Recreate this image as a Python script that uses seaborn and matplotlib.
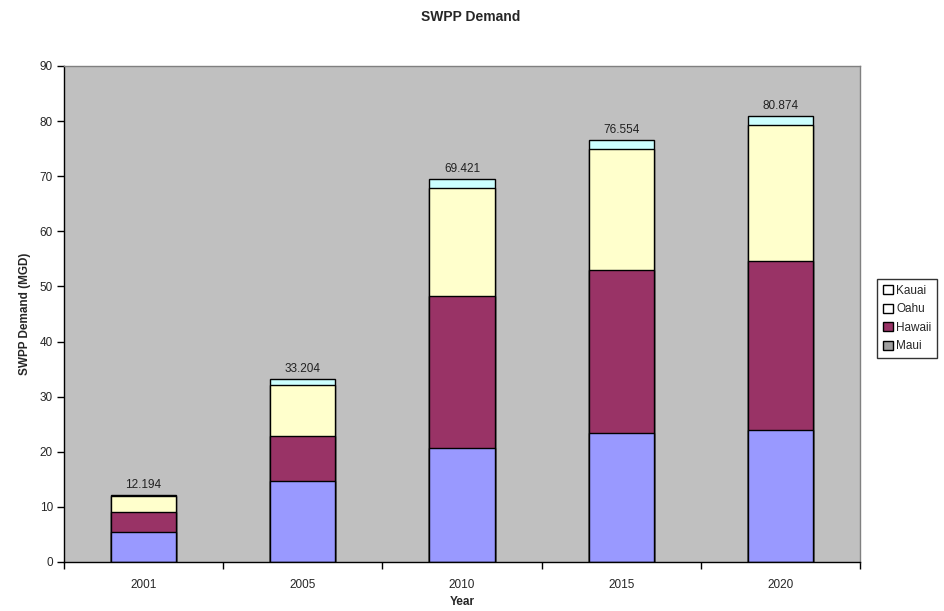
import pandas as pd
import matplotlib.pyplot as plt
import matplotlib.patches as mpatches
import numpy as np
import seaborn as sns

# values (MGD)
years = ["2001", "2005", "2010", "2015", "2020"]
maui = [5.5, 14.7, 20.7, 23.4, 24.0]
hawaii = [3.6, 8.2, 27.6, 29.5, 30.6]
oahu = [2.9, 9.2, 19.5, 22.0, 24.7]
kauai = [0.194, 1.104, 1.621, 1.654, 1.574]

islands = ["Maui", "Hawaii", "Oahu", "Kauai"]
colors = {"Maui": "#9999FF", "Hawaii": "#993366", "Oahu": "#FFFFCC", "Kauai": "#CCFFFF"}

df = pd.DataFrame({"Year": years, "Maui": maui, "Hawaii": hawaii,
                   "Oahu": oahu, "Kauai": kauai})
cum = df[islands].cumsum(axis=1)
totals = cum["Kauai"]

sns.set_style("white")
plt.rcParams["font.family"] = ["Liberation Sans", "DejaVu Sans"]

fig = plt.figure(figsize=(9.45, 6.11), dpi=100)
ax = fig.add_axes([0.0677, 0.0802, 0.8423, 0.8118])
ax.set_facecolor("#C0C0C0")

# draw from the top of the stack down, each bar covering the one behind it
for isl in reversed(islands):
    sns.barplot(x=df["Year"], y=cum[isl], color=colors[isl], width=0.41,
                edgecolor="black", linewidth=1, saturation=1, ax=ax, zorder=2)

for i, t in enumerate(totals):
    ax.annotate(f"{t:.3f}", (i, t), xytext=(0, 3), textcoords="offset points",
                ha="center", va="bottom", fontsize=8.5, color="#222222")

ax.set_xlim(-0.5, 4.5)
ax.set_ylim(0, 90)
ax.set_yticks(np.arange(0, 91, 10))
ax.set_xticks(range(len(years)))
ax.set_xticks(np.arange(-0.5, 5, 1), minor=True)
ax.tick_params(axis="x", which="major", bottom=True, length=0, pad=12, labelsize=8.5)
ax.tick_params(axis="x", which="minor", bottom=True, length=5, width=1,
               color="black", direction="out")
ax.tick_params(axis="y", left=True, length=5, width=1, color="black",
               direction="out", labelsize=8.5, pad=3)

for s in ["top", "right"]:
    ax.spines[s].set_color("#808080")
    ax.spines[s].set_linewidth(1)
for s in ["left", "bottom"]:
    ax.spines[s].set_color("black")
    ax.spines[s].set_linewidth(1)

ax.set_xlabel("Year", fontsize=8.5, fontweight="bold", labelpad=4)
ax.set_ylabel("SWPP Demand (MGD)", fontsize=8.5, fontweight="bold", labelpad=6)
fig.suptitle("SWPP Demand", x=0.498, y=0.983, fontsize=10, fontweight="bold")

# legend swatches as they appear in the picture
handles = [mpatches.Patch(facecolor="white", edgecolor="black", label="Kauai"),
           mpatches.Patch(facecolor="white", edgecolor="black", label="Oahu"),
           mpatches.Patch(facecolor="#993366", edgecolor="black", label="Hawaii"),
           mpatches.Patch(facecolor="#A0A0A0", edgecolor="black", label="Maui")]
leg = fig.legend(handles=handles, loc="upper left", bbox_to_anchor=(0.922, 0.553),
                 fontsize=8.5, frameon=True, fancybox=False, handlelength=0.8,
                 handleheight=0.8, handletextpad=0.3, borderpad=0.5, labelspacing=0.55)
leg.get_frame().set_edgecolor("black")
leg.get_frame().set_linewidth(1)

fig.savefig("out.png", dpi=100)
